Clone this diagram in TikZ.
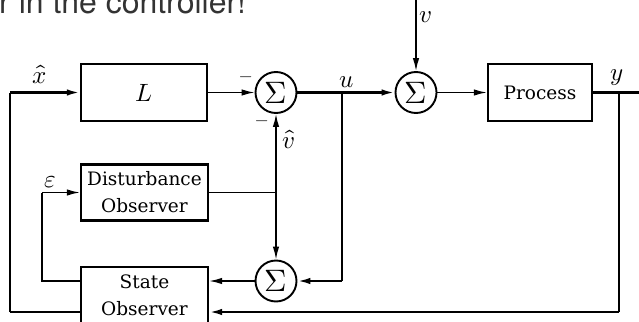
\documentclass[tikz,border=0pt]{standalone}
\usepackage{fontspec}
\usepackage{unicode-math}
\setmathfont{Latin Modern Math}
\newfontfamily\titlefont{TeX Gyre Heros}
\newfontfamily\boxfont{DejaVu Serif}
\usetikzlibrary{arrows.meta}
\begin{document}
\begin{tikzpicture}[x=1pt,y=-1pt,
  blk/.style={draw, line width=2.4pt, inner sep=0, align=center, font=\boxfont\fontsize{18.5}{27}\selectfont},
  sumn/.style={circle, draw, line width=1.9pt, minimum size=41pt, inner sep=0, font=\fontsize{31}{31}\selectfont},
  thinl/.style={line width=1.4pt},
  heavy/.style={line width=2.2pt},
  arr/.style={-{Latex[length=13pt,width=6.5pt]}},
  lbl/.style={inner sep=0, anchor=base, font=\fontsize{25}{25}\selectfont},
  sgn/.style={inner sep=0, font=\fontsize{17}{17}\selectfont}
]
\useasboundingbox (0,0) rectangle (639,321);
\clip (0,0) rectangle (639,321);

% title (cropped)
\node[anchor=base west, inner sep=0, font=\titlefont\fontsize{32}{32}\selectfont, text=black!80] (title) at (-1,14) {r in the controller!};

% blocks
\node[blk, minimum width=126pt, minimum height=57pt] (L) at (144,92.5) {\fontsize{25}{25}\selectfont$L$};
\node[blk, minimum width=104pt, minimum height=57pt] (P) at (540,92.5) {Process};
\node[blk, minimum width=127pt, minimum height=56pt] (DO) at (144.5,192.5) {Disturbance\\Observer};
\node[blk, minimum width=127pt, minimum height=56pt] (SO) at (144.5,295) {State\\Observer};

% summation points
\node[sumn] (S1) at (276,92.5) {$\Sigma$};
\node[sumn] (S2) at (416,92.5) {$\Sigma$};
\node[sumn] (S3) at (276,281) {$\Sigma$};

% helper coordinates
\coordinate (lb) at (10,312);
\coordinate (lt) at (10,92.5);
\coordinate (ub) at (342,92.5);
\coordinate (ubot) at (342,281);
\coordinate (vtop) at (416,-2);
\coordinate (yb) at (619,92.5);
\coordinate (ybot) at (619,312);
\coordinate (yend) at (642,92.5);
\coordinate (jn) at (276,192.5);
\coordinate (eb) at (42,281);
\coordinate (et) at (42,192.5);

% left loop x-hat
\draw[heavy] (SO.west |- lb) -- (lb);
\draw[thinl] (lb) -- (lt);
\draw[heavy, arr] (lt) -- (L.west);
\node[lbl] (xh) at (40,83) {$\hat{x}$};

% L -> S1
\draw[thinl, arr] (L.east) -- (S1.west);
\node[sgn] (m1) at (246,79) {$-$};
\node[sgn] (m2) at (262,123) {$-$};

% S1 -> S2 (u)
\draw[heavy, arr] (S1.east) -- (S2.west);
\node[lbl] (ul) at (347,87) {$u$};
\draw[thinl] (ub) -- (ubot);
\draw[heavy, arr] (ubot) -- (S3.east);

% v
\draw[thinl, arr] (vtop) -- (S2.north);
\node[lbl] (vl) at (426,23) {$v$};

% S2 -> Process
\draw[thinl, arr] (S2.east) -- (P.west);

% y
\draw[heavy] (P.east) -- (yend);
\node[lbl] (yl) at (617,81) {$y$};
\draw[thinl] (yb) -- (ybot);
\draw[heavy, arr] (ybot) -- (SO.east |- ybot);

% disturbance estimate
\draw[thinl] (DO.east) -- (jn);
\draw[thinl, arr] (jn) -- (S1.south);
\draw[thinl, arr] (jn) -- (S3.north);
\node[lbl] (vh) at (289,148) {$\hat{v}$};

% S3 -> SO
\draw[thinl, arr] (S3.west) -- (SO.east |- S3);

% epsilon loop
\draw[thinl] (SO.west |- eb) -- (eb) -- (et);
\draw[thinl, arr] (et) -- (DO.west);
\node[lbl] (el) at (50,187) {$\varepsilon$};
\end{tikzpicture}
\end{document}
